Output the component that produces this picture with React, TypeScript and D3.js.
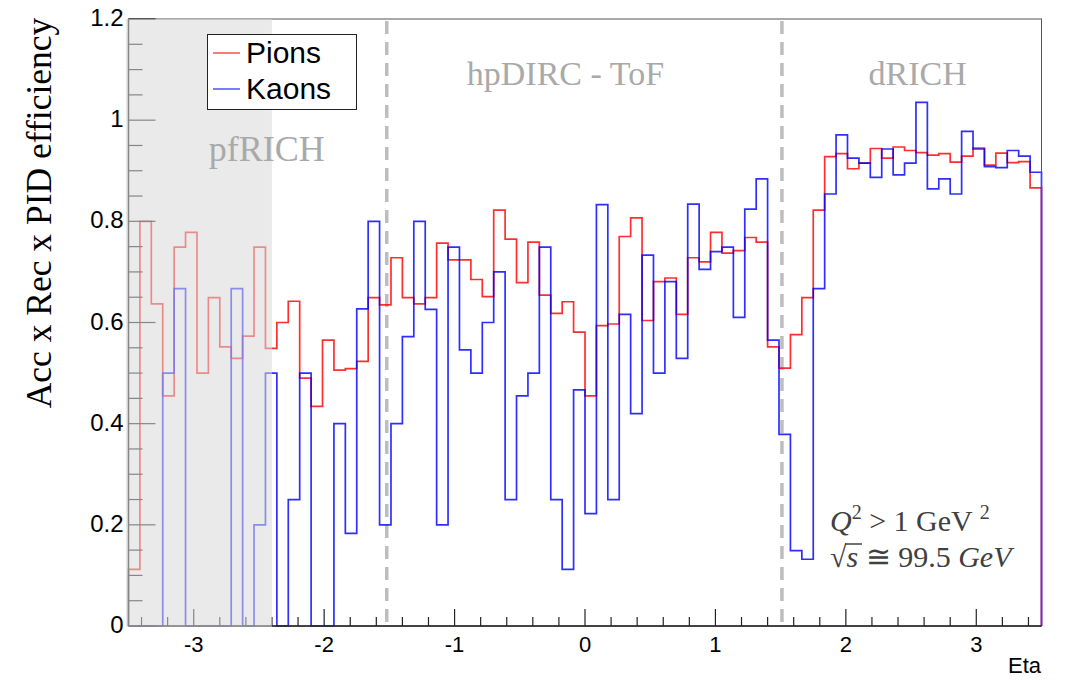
import React, { useEffect, useRef } from 'react';
import * as d3 from 'd3';

// histogram binning (eta)
const ETA_LO = -3.5;
const ETA_HI = 3.5;
const N_BINS = 80;

// Acc x Rec x PID efficiency per eta bin
const pions = [
	0.112, 0.80, 0.637, 0.455, 0.749, 0.778, 0.50, 0.649, 0.552, 0.529,
	0.573, 0.749, 0.549, 0.600, 0.642, 0.490, 0.434, 0.565, 0.506, 0.509,
	0.523, 0.649, 0.635, 0.728, 0.649, 0.637, 0.649, 0.757, 0.724, 0.724,
	0.685, 0.651, 0.822, 0.765, 0.679, 0.759, 0.654, 0.618, 0.641, 0.581,
	0.455, 0.594, 0.597, 0.770, 0.807, 0.604, 0.681, 0.688, 0.616, 0.728,
	0.720, 0.778, 0.737, 0.742, 0.768, 0.759, 0.552, 0.510, 0.576, 0.649,
	0.822, 0.928, 0.934, 0.904, 0.915, 0.944, 0.925, 0.947, 0.940, 0.936,
	0.931, 0.934, 0.917, 0.929, 0.945, 0.911, 0.935, 0.916, 0.918, 0.866,
];

const kaons = [
	0, 0, 0, 0.5, 0.667, 0, 0, 0, 0, 0.667,
	0, 0.2, 0.5, 0, 0.25, 0.5, 0, 0, 0.4, 0.183,
	0.627, 0.80, 0.2, 0.4, 0.572, 0.80, 0.626, 0.2, 0.749, 0.546,
	0.50, 0.60, 0.70, 0.25, 0.455, 0.50, 0.749, 0.25, 0.112, 0.467,
	0.222, 0.833, 0.25, 0.616, 0.42, 0.733, 0.50, 0.681, 0.529, 0.834,
	0.705, 0.740, 0.749, 0.610, 0.824, 0.884, 0.565, 0.379, 0.149, 0.132,
	0.667, 0.854, 0.971, 0.925, 0.915, 0.887, 0.943, 0.892, 0.915, 1.035,
	0.864, 0.884, 0.854, 0.978, 0.943, 0.908, 0.906, 0.940, 0.929, 0.897,
];

const seriesNames = ['Pions', 'Kaons'];
const yTicks = [0, 0.2, 0.4, 0.6, 0.8, 1, 1.2];
const yTickLabels = ['0', '0.2', '0.4', '0.6', '0.8', '1', '1.2'];
const xTicks = [-3, -2, -1, 0, 1, 2, 3];
const xTickLabels = ['-3', '-2', '-1', '0', '1', '2', '3'];
const detectorBounds = [-1.52, 1.51];
const detectorNames = ['pfRICH', 'hpDIRC - ToF', 'dRICH'];
const pfRichRange = [-3.52, -2.4];

export default function App() {
	const ref = useRef<SVGSVGElement>(null);

	useEffect(() => {
		const svg = d3.select(ref.current);
		svg.selectAll('*').remove();

		const x = d3.scaleLinear().domain([ETA_LO, ETA_HI]).range([128.5, 1041.5]);
		const y = d3.scaleLinear().domain([0, 1.2]).range([626, 19]);
		const binW = (ETA_HI - ETA_LO) / N_BINS;

		// step outline like ROOT "HIST"
		function stepPoints(vals: number[]) {
			const pts: [number, number][] = [[ETA_LO, 0]];
			vals.forEach((v, i) => pts.push([ETA_LO + i * binW, v]));
			pts.push([ETA_HI, vals[vals.length - 1]]);
			pts.push([ETA_HI, 0]);
			return pts;
		}
		const line = d3.line<[number, number]>()
			.x((d) => x(d[0]))
			.y((d) => y(d[1]))
			.curve(d3.curveStepAfter);

		const g = svg.append('g');

		// dashed detector boundaries
		detectorBounds.forEach((b) => {
			g.append('line')
				.attr('x1', x(b)).attr('x2', x(b))
				.attr('y1', y(1.2) + 2).attr('y2', y(0))
				.attr('stroke', '#bdbdbd')
				.attr('stroke-width', 3.5)
				.attr('stroke-dasharray', '13,8');
		});

		const colors = ['#ff0000', '#0000ff'];
		[pions, kaons].forEach((vals, i) => {
			g.append('path')
				.attr('d', line(stepPoints(vals)))
				.attr('fill', 'none')
				.attr('stroke', colors[i])
				.attr('stroke-opacity', 0.82)
				.attr('stroke-width', 1.7);
		});

		// frame
		const axCol = '#222';
		g.append('rect')
			.attr('x', x(ETA_LO)).attr('y', y(1.2))
			.attr('width', x(ETA_HI) - x(ETA_LO))
			.attr('height', y(0) - y(1.2))
			.attr('fill', 'none')
			.attr('stroke', '#555')
			.attr('stroke-width', 1);
		g.append('line')
			.attr('x1', x(ETA_LO)).attr('x2', x(ETA_HI))
			.attr('y1', y(0)).attr('y2', y(0))
			.attr('stroke', axCol).attr('stroke-width', 1.5);
		g.append('line')
			.attr('x1', x(ETA_LO)).attr('x2', x(ETA_LO))
			.attr('y1', y(0)).attr('y2', y(1.2))
			.attr('stroke', axCol).attr('stroke-width', 1.5);

		// y ticks
		d3.range(0, 1.2001, 0.05).forEach((t) => {
			const major = Math.abs(t * 5 - Math.round(t * 5)) < 1e-6;
			g.append('line')
				.attr('x1', x(ETA_LO)).attr('x2', x(ETA_LO) + (major ? 27 : 14))
				.attr('y1', y(t)).attr('y2', y(t))
				.attr('stroke', axCol).attr('stroke-width', 1.2);
		});
		yTicks.forEach((t, i) => {
			g.append('text')
				.attr('x', x(ETA_LO) - 5).attr('y', y(t) + 7)
				.attr('text-anchor', 'end')
				.style('font', '24px "Liberation Sans", Arial, sans-serif')
				.attr('fill', '#000')
				.text(yTickLabels[i]);
		});

		// x ticks
		d3.range(-3.4, 3.4001, 0.2).forEach((t) => {
			const major = Math.abs(t - Math.round(t)) < 1e-6;
			g.append('line')
				.attr('x1', x(t)).attr('x2', x(t))
				.attr('y1', y(0)).attr('y2', y(0) - (major ? 17 : 9))
				.attr('stroke', axCol).attr('stroke-width', 1.2);
		});
		xTicks.forEach((t, i) => {
			g.append('text')
				.attr('x', x(t)).attr('y', 652)
				.attr('text-anchor', 'middle')
				.style('font', '22px "Liberation Sans", Arial, sans-serif')
				.text(xTickLabels[i]);
		});
		g.append('text')
			.attr('x', 1041).attr('y', 673)
			.attr('text-anchor', 'end')
			.style('font', '22px "Liberation Sans", Arial, sans-serif')
			.text('Eta');

		// y title
		g.append('text')
			.attr('transform', 'translate(51,213) rotate(-90)')
			.attr('text-anchor', 'middle')
			.style('font', '35.5px "Liberation Serif", serif')
			.text('Acc x Rec x PID efficiency');

		// pfRICH shaded area, drawn on top of the histograms
		g.append('rect')
			.attr('x', x(pfRichRange[0])).attr('y', y(1.2))
			.attr('width', x(pfRichRange[1]) - x(pfRichRange[0]))
			.attr('height', y(0) - y(1.2) + 1)
			.attr('fill', 'rgb(216,216,216)')
			.attr('fill-opacity', 0.55);

		// detector labels
		const labelFont = '34px "Liberation Serif", serif';
		const labelPos = [[-2.44, 0.92], [-0.15, 1.07], [2.55, 1.07]];
		detectorNames.forEach((n, i) => {
			g.append('text')
				.attr('x', x(labelPos[i][0])).attr('y', y(labelPos[i][1]))
				.attr('text-anchor', 'middle')
				.style('font', i === 0 ? '36px "Liberation Serif", serif' : labelFont)
				.attr('fill', '#a9a9a9')
				.text(n);
		});

		// legend
		const lg = g.append('g');
		lg.append('rect')
			.attr('x', 207.5).attr('y', 34.5).attr('width', 149).attr('height', 75)
			.attr('fill', '#fff').attr('stroke', '#222').attr('stroke-width', 1);
		seriesNames.forEach((n, i) => {
			const ly = 53 + i * 36;
			lg.append('line')
				.attr('x1', 213).attr('x2', 240).attr('y1', ly).attr('y2', ly)
				.attr('stroke', colors[i]).attr('stroke-opacity', 0.8).attr('stroke-width', 1.3);
			lg.append('text')
				.attr('x', 246).attr('y', ly + 10)
				.style('font', '30px "Liberation Sans", Arial, sans-serif')
				.text(n);
		});

		// kinematics annotation
		const ann = g.append('g').attr('fill', '#404040')
			.style('font', '30px "Liberation Serif", serif');
		const t1 = ann.append('text').attr('x', 830).attr('y', 531);
		t1.append('tspan').style('font-style', 'italic').text('Q');
		t1.append('tspan').attr('dy', -12).style('font-size', '20px').text('2');
		t1.append('tspan').attr('dy', 12).text(' > 1 GeV ');
		t1.append('tspan').attr('dy', -12).style('font-size', '20px').text('2');
		const t2 = ann.append('text').attr('x', 830).attr('y', 567);
		t2.append('tspan').text('\u221A');
		t2.append('tspan').style('font-style', 'italic').text('s');
		t2.append('tspan').text(' \u2245 99.5 ');
		t2.append('tspan').style('font-style', 'italic').text('GeV');
		ann.append('line')
			.attr('x1', 845).attr('x2', 862).attr('y1', 544).attr('y2', 544)
			.attr('stroke', '#404040').attr('stroke-width', 1.5);
	}, []);

	return (
		<div style={{ position: 'absolute', left: 0, top: 0, background: '#fff' }}>
			<svg ref={ref} width={1066} height={680} style={{ display: 'block' }}></svg>
		</div>
	);
}
